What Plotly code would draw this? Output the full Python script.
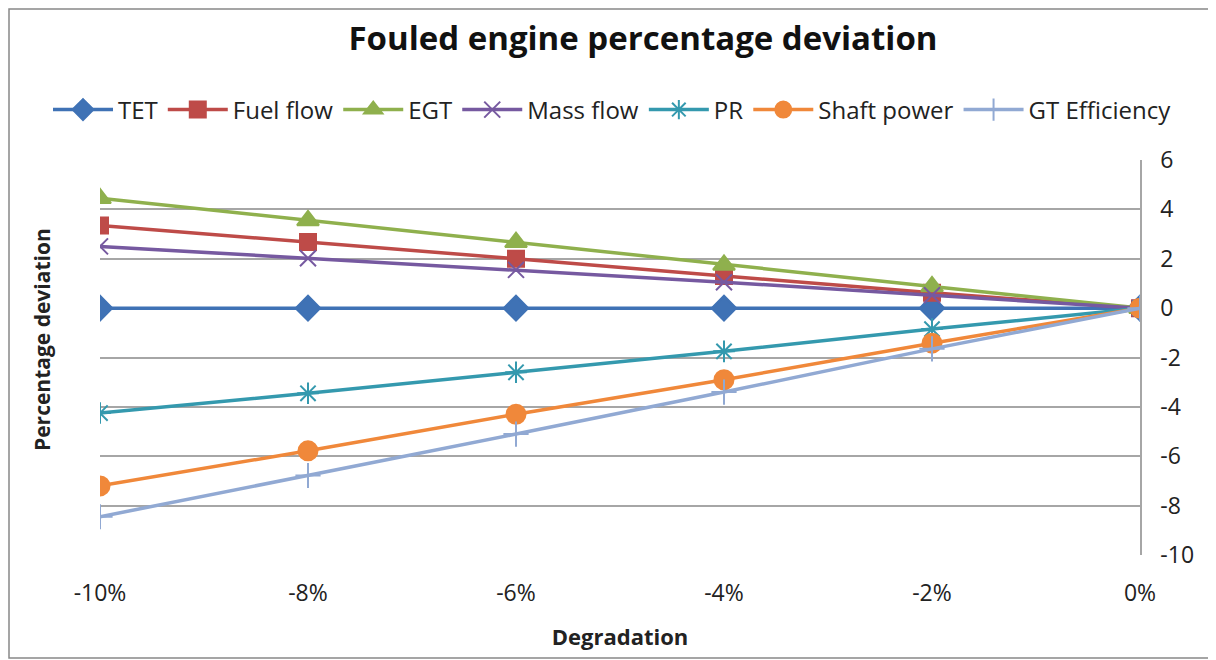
import plotly.graph_objects as go

degradation = ["-10%", "-8%", "-6%", "-4%", "-2%", "0%"]

tet = [0, 0, 0, 0, 0, 0]
fuel_flow = [3.35, 2.68, 2.0, 1.3, 0.62, 0]
egt = [4.45, 3.55, 2.67, 1.75, 0.88, 0]
mass_flow = [2.5, 2.02, 1.55, 1.05, 0.52, 0]
pr = [-4.25, -3.45, -2.6, -1.75, -0.85, 0]
shaft_power = [-7.2, -5.78, -4.3, -2.9, -1.42, 0]
gt_efficiency = [-8.45, -6.78, -5.1, -3.4, -1.65, 0]

y_ticks = [-10, -8, -6, -4, -2, 0, 2, 4, 6]
y_tick_labels = ["-10", "-8", "-6", "-4", "-2", "0", "2", "4", "6"]

series = [
    ("TET", tet, "#3F72B5", "diamond", 19),
    ("Fuel flow", fuel_flow, "#BE4B48", "square", 16),
    ("EGT", egt, "#8FB04D", "triangle-up", 19),
    ("Mass flow", mass_flow, "#7659A0", "x-thin-open", 16),
    ("PR", pr, "#3499AE", "asterisk-open", 18),
    ("Shaft power", shaft_power, "#F0883A", "circle", 19),
    ("GT Efficiency", gt_efficiency, "#91A9D3", "cross-thin-open", 18),
]

font = "Open Sans, Liberation Sans, sans-serif"

# page body adds an 8px offset, so positions below are in figure pixels
L, R, T, B = 92, 1132, 152, 547
W, H = R - L, B - T

fig = go.Figure()
for name, vals, color, symbol, size in series:
    fig.add_trace(go.Scatter(
        x=degradation, y=vals, name=name, mode="lines+markers",
        line=dict(color=color, width=3.5),
        marker=dict(symbol=symbol, size=size, color=color,
                    line=dict(color=color, width=2)),
    ))

fig.update_layout(
    width=1216, height=660,
    paper_bgcolor="white", plot_bgcolor="white",
    margin=dict(l=L, r=1216 - R, t=T, b=660 - B, autoexpand=False),
    font=dict(family=font, size=22, color="#222222"),
    title=dict(text="<b>Fouled engine percentage deviation</b>", x=635 / 1216, xanchor="center",
               y=1 - 30 / 660, yanchor="middle", font=dict(size=33, color="#111111")),
    legend=dict(orientation="h", x=(40 - L) / W, xanchor="left", y=(B - 102) / H,
                yanchor="middle", font=dict(size=24), itemwidth=60, tracegroupgap=0),
    showlegend=True,
)

fig.update_xaxes(
    type="category", range=[0, 5], showgrid=False, showline=False,
    ticks="", tickfont=dict(size=23), ticklabelstandoff=22,
    title=dict(text="<b>Degradation</b>", font=dict(size=22), standoff=22),
)
fig.update_yaxes(
    side="right", range=[-10, 6], tickvals=y_ticks, ticktext=y_tick_labels,
    showgrid=True, gridcolor="#A6A6A6",
    gridwidth=1.5, showline=True, linecolor="#A6A6A6", linewidth=1.5,
    zeroline=False, tickfont=dict(size=23), ticklabelstandoff=14,
)

fig.add_annotation(
    text="<b>Percentage deviation</b>", xref="paper", yref="paper",
    x=(34 - L) / W, y=(B - 332) / H, textangle=-90, showarrow=False,
    xanchor="center", yanchor="middle", font=dict(size=21),
)

fig.add_shape(type="rect", xref="paper", yref="paper",
              x0=(1 - L) / W, x1=(1230 - L) / W,
              y0=(B - 650) / H, y1=(B - 1) / H,
              line=dict(color="#888888", width=1.5))

fig.write_html("out.html")
